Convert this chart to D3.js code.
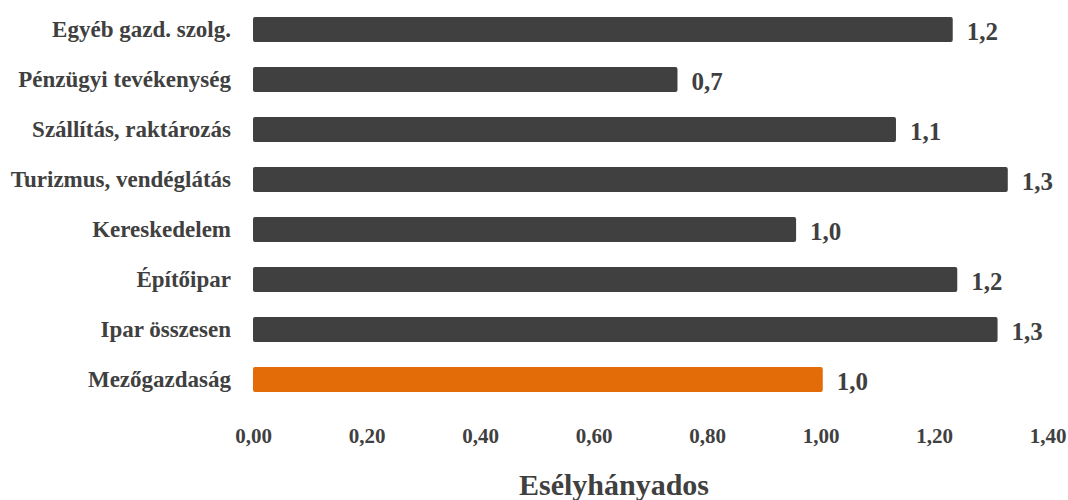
<!DOCTYPE html>
<html>
<head>
<meta charset="utf-8">
<script src="https://cdn.jsdelivr.net/npm/d3@7"></script>
<style>
  html, body { margin: 0; padding: 0; background: #ffffff; }
  svg { display: block; }
  text { font-family: "Liberation Serif", "Times New Roman", serif; font-weight: bold; fill: #404040; }
</style>
</head>
<body>
<svg id="chart" width="1068" height="500"></svg>
<script>
const categories = ["Egyéb gazd. szolg.", "Pénzügyi tevékenység", "Szállítás, raktározás", "Turizmus, vendéglátás", "Kereskedelem", "Építőipar", "Ipar összesen", "Mezőgazdaság"];
const values = [1.233, 0.748, 1.133, 1.330, 0.957, 1.241, 1.312, 1.004];
const highlight = ["Mezőgazdaság"];
const tickValues = [0, 0.2, 0.4, 0.6, 0.8, 1.0, 1.2, 1.4];
const axisTitle = "Esélyhányados";

const data = categories.map((c, i) => ({ cat: c, val: values[i] }));
const svg = d3.select("#chart");

const x = d3.scaleLinear().domain([0, 1.4]).range([253, 1047.5]);
const y = d3.scaleBand().domain(categories).range([4.5, 404.5]).paddingInner(0.5).paddingOuter(0.25);

const comma = v => v.replace(".", ",");
const fmtTick = v => comma(d3.format(".2f")(v));
const fmtVal = v => comma(d3.format(".1f")(v));

// bars
svg.append("g").selectAll("rect").data(data).join("rect")
  .attr("x", x(0))
  .attr("y", d => y(d.cat))
  .attr("width", d => x(d.val) - x(0))
  .attr("height", y.bandwidth())
  .attr("rx", 2).attr("ry", 2)
  .attr("fill", d => highlight.includes(d.cat) ? "#E36C09" : "#404040");

// value labels
svg.append("g").selectAll("text").data(data).join("text")
  .attr("x", d => x(d.val) + 14)
  .attr("y", d => y(d.cat) + y.bandwidth() / 2 + 10)
  .attr("font-size", 25)
  .text(d => fmtVal(d.val));

// category axis
const yAxis = d3.axisLeft(y).tickSize(0).tickPadding(0);
const gy = svg.append("g").attr("transform", "translate(231,0)").call(yAxis);
gy.select(".domain").remove();
gy.selectAll("text")
  .attr("font-size", 23)
  .attr("font-family", null)
  .attr("fill", "#404040")
  .attr("dy", null)
  .attr("y", 7.5)
  .attr("text-anchor", "end");

// x axis
const xAxis = d3.axisBottom(x).tickValues(tickValues).tickFormat(fmtTick).tickSize(0).tickPadding(0);
const gx = svg.append("g").attr("transform", "translate(0,443)").call(xAxis);
gx.select(".domain").remove();
gx.selectAll("text")
  .attr("font-size", 21)
  .attr("font-family", null)
  .attr("fill", "#404040")
  .attr("dy", null)
  .attr("y", 0);

// axis title
svg.append("text")
  .attr("x", 614)
  .attr("y", 495)
  .attr("text-anchor", "middle")
  .attr("font-size", 30)
  .text(axisTitle);
</script>
</body>
</html>
